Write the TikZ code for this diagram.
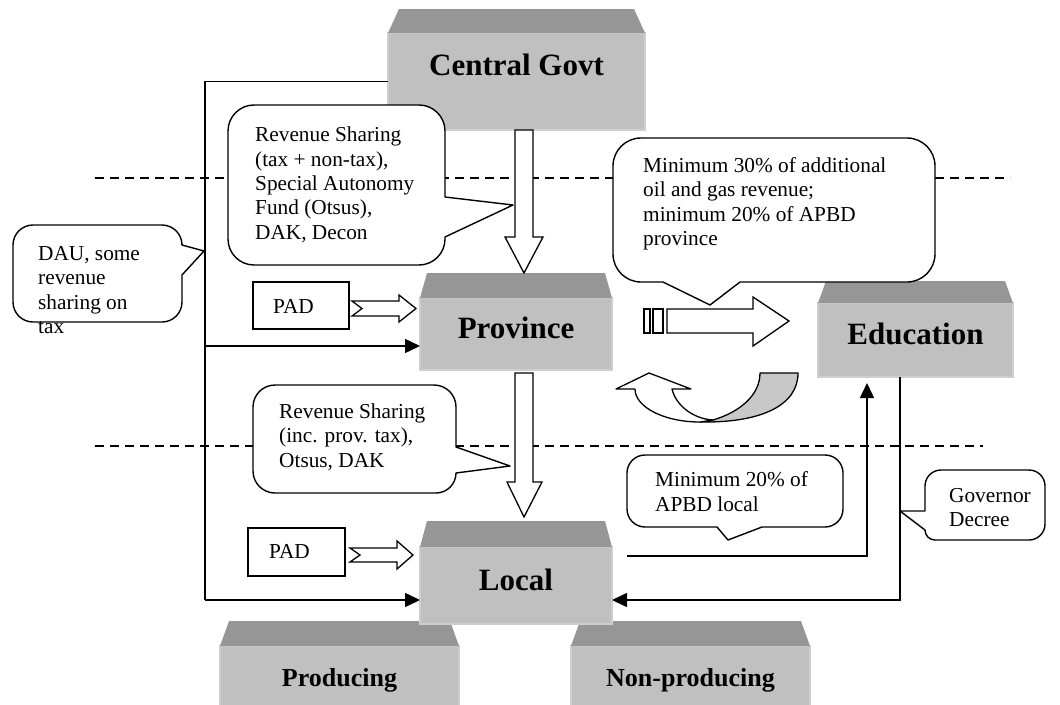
\documentclass[tikz,border=0pt]{standalone}
\usepackage{fontspec}
\setmainfont{Liberation Serif}
\usetikzlibrary{arrows.meta,calc}

\definecolor{faceg}{RGB}{192,192,192}
\definecolor{topg}{RGB}{150,150,150}
\definecolor{edgeg}{RGB}{206,206,206}
\definecolor{backg}{RGB}{200,200,200}

% tier box: #1 name, #2 left, #3 face top, #4 width, #5 height, #6 band height, #7 band inset
\newcommand\tierbox[7]{%
  \node[face, minimum width=#4pt, minimum height=#5pt] (#1) at (#2,#3) {};
  \fill[topg] (#1.north west) -- ($(#1.north west)+(#7,-#6)$)
     -- ($(#1.north east)+(-#7,-#6)$) -- (#1.north east) -- cycle;
}

\begin{document}
\begin{tikzpicture}[x=1pt,y=-1pt,
  face/.style={fill=faceg, draw=edgeg, line width=2pt, inner sep=0pt, outer sep=0pt, anchor=north west},
  big/.style={font=\fontsize{31}{36}\selectfont\bfseries, inner sep=0pt, anchor=base},
  small/.style={font=\fontsize{26}{30}\selectfont\bfseries, inner sep=0pt, anchor=base},
  note/.style={font=\fontsize{21.3}{24.4}\selectfont, anchor=north west, align=left, inner sep=0pt},
  padtext/.style={font=\fontsize{21.3}{24.4}\selectfont, anchor=base west, inner sep=0pt},
  bubble/.style={draw=black, fill=white, line width=1.4pt, line join=round},
  padbox/.style={draw=black, fill=white, line width=1.4pt, inner sep=0pt},
  flow/.style={draw=black, line width=1.5pt},
  arr/.style={flow, -{Triangle[length=15pt,width=14pt]}},
  blockarrow/.style={draw=black, fill=white, line width=1.3pt, line join=miter},
  sepline/.style={line width=1.2pt, dash pattern=on 9pt off 6pt}
]
\useasboundingbox (0,0) rectangle (1060,704);
\clip (0,0) rectangle (1060,704);

% level separators
\coordinate (s1a) at (95,178);  \coordinate (s1b) at (1010,178);
\coordinate (s2a) at (95,446);  \coordinate (s2b) at (983,446);
\draw[sepline] (s1a) -- (s1b);
\draw[sepline] (s2a) -- (s2b);

% government tiers
\tierbox{prod}{220}{646}{239}{70}{25}{9}
\tierbox{nprod}{571}{646}{239}{70}{25}{9}
\tierbox{loc}{420}{547}{192}{77}{26}{7}
\tierbox{cg}{388}{33}{257}{97}{24}{11}
\tierbox{prov}{420}{298}{192}{72}{25}{7}
\tierbox{edu}{818}{303}{195}{74}{22}{8}

\node[big] (cgl) at (516.5,75) {Central Govt};
\node[big] (provl) at (516,338) {Province};
\node[big] (edul) at (915.5,344) {Education};
\node[big] (locl) at (516,590) {Local};
\node[small] (prodl) at (339.5,686) {Producing};
\node[small] (nprodl) at (690.5,686) {Non-producing};

% central transfers down the left side
\coordinate (tt) at (205,81.5);
\coordinate (tp) at (205,346);
\coordinate (tb) at (205,600);
\draw[flow] (cg.west) -- (tt) -- (tb);
\draw[arr] (tp) -- (tp -| prov.west);
\draw[arr] (tb) -- (tb -| loc.west);

% local and education links on the right
\coordinate (er) at (900,600);
\draw[arr] (edu.south -| er) -- (er) -- (er -| loc.east);
\coordinate (lo) at (627,556);
\coordinate (uc) at (867,556);
\draw[arr] (lo) -- (uc) -- ($(uc |- edu.south)+(0,6)$);

% block arrows between tiers
\draw[blockarrow] (515,130) -- (515,237) -- (505,237) -- (524,273) -- (543,237) -- (533,237) -- (533,130) -- cycle;
\draw[blockarrow] (515,373) -- (515,482) -- (507,482) -- (524,517) -- (542,482) -- (533,482) -- (533,373) -- cycle;

% striped arrow towards education
\draw[blockarrow] (644,309) rectangle (650,333);
\draw[blockarrow] (653,309) rectangle (663,333);
\draw[blockarrow] (667,309) -- (753,309) -- (753,297) -- (789,321) -- (753,346) -- (753,333) -- (667,333) -- cycle;

% curved return arrow
\draw[draw=black, fill=backg, line width=1.3pt, line join=round]
  (713,420) .. controls (740,412) and (760,395) .. (760,373) -- (798,373)
  .. controls (798,405) and (762,423) .. (700,422) -- cycle;
\draw[blockarrow, line join=round]
  (616,389) -- (649,373) -- (691,389) -- (672,389)
  .. controls (676,406) and (694,419) .. (713,420) -- (700,422)
  .. controls (664,422) and (635,407) .. (635,389) -- cycle;

% own revenue
\node[padbox, minimum width=96pt, minimum height=47pt] (pad1) at (301,305.5) {};
\node[padtext] (pad1t) at (273,313) {PAD};
\draw[blockarrow] (352,301) -- (399,301) -- (399,295) -- (416,308.5) -- (399,322) -- (399,316) -- (352,316) -- (362,308.5) -- cycle;
\node[padbox, minimum width=97pt, minimum height=48pt] (pad2) at (296.5,552) {};
\node[padtext] (pad2t) at (269,558) {PAD};
\draw[blockarrow] (350,548) -- (397,548) -- (397,541) -- (413,555) -- (397,569) -- (397,562) -- (350,562) -- (360,555) -- cycle;

% callouts
\coordinate (c1tip) at (513,205);
\draw[bubble] (254,105) -- (419,105) arc[start angle=270,end angle=360,radius=26]
  -- (445,197) -- (c1tip) -- (445,237) -- (445,239) arc[start angle=0,end angle=90,radius=26]
  -- (254,265) arc[start angle=90,end angle=180,radius=26]
  -- (228,131) arc[start angle=180,end angle=270,radius=26] -- cycle;
\node[note] (c1) at (255,124.5) {\strut Revenue Sharing\\(tax + non-tax),\\Special Autonomy\\Fund (Otsus),\\DAK, Decon};

\coordinate (c2tip) at (710,305);
\draw[bubble] (641,138) -- (907,138) arc[start angle=270,end angle=360,radius=28]
  -- (935,254) arc[start angle=0,end angle=90,radius=28]
  -- (740,282) -- (c2tip) -- (663,282) -- (641,282) arc[start angle=90,end angle=180,radius=28]
  -- (613,166) arc[start angle=180,end angle=270,radius=28] -- cycle;
\node[note] (c2) at (643,155) {\strut Minimum 30\% of additional\\oil and gas revenue;\\minimum 20\% of APBD\\province};

\coordinate (c3tip) at (204,251);
\draw[bubble] (33,225) -- (162,225) arc[start angle=270,end angle=360,radius=20]
  -- (182,245) -- (c3tip) -- (182,275) -- (182,302) arc[start angle=0,end angle=90,radius=20]
  -- (33,322) arc[start angle=90,end angle=180,radius=20]
  -- (13,245) arc[start angle=180,end angle=270,radius=20] -- cycle;
\node[note] (c3) at (38,243) {\strut DAU, some\\revenue\\sharing on\\tax};

\coordinate (c4tip) at (510,466);
\draw[bubble] (275,385) -- (434,385) arc[start angle=270,end angle=360,radius=22]
  -- (456,447) -- (c4tip) -- (456,473) arc[start angle=0,end angle=90,radius=20]
  -- (275,493) arc[start angle=90,end angle=180,radius=22]
  -- (253,407) arc[start angle=180,end angle=270,radius=22] -- cycle;
\node[note] (c4) at (279,401) {\strut Revenue Sharing\\(inc. prov. tax),\\Otsus, DAK};

\coordinate (c5tip) at (728,540);
\draw[bubble] (645,455) -- (825,455) arc[start angle=270,end angle=360,radius=18]
  -- (843,509) arc[start angle=0,end angle=90,radius=18]
  -- (762,527) -- (c5tip) -- (717,527) -- (645,527) arc[start angle=90,end angle=180,radius=18]
  -- (627,473) arc[start angle=180,end angle=270,radius=18] -- cycle;
\node[note, font=\fontsize{21.3}{25.5}\selectfont] (c5) at (655,468) {\strut Minimum 20\% of\\APBD local};

\coordinate (c6tip) at (900,511);
\draw[bubble] (941,470) -- (1029,470) arc[start angle=270,end angle=360,radius=16]
  -- (1045,524) arc[start angle=0,end angle=90,radius=16]
  -- (935,540) arc[start angle=90,end angle=180,radius=10]
  -- (925,530) -- (c6tip) -- (925,511) -- (925,486) arc[start angle=180,end angle=270,radius=16] -- cycle;
\node[note] (c6) at (949,485) {\strut Governor\\Decree};

\end{tikzpicture}
\end{document}
